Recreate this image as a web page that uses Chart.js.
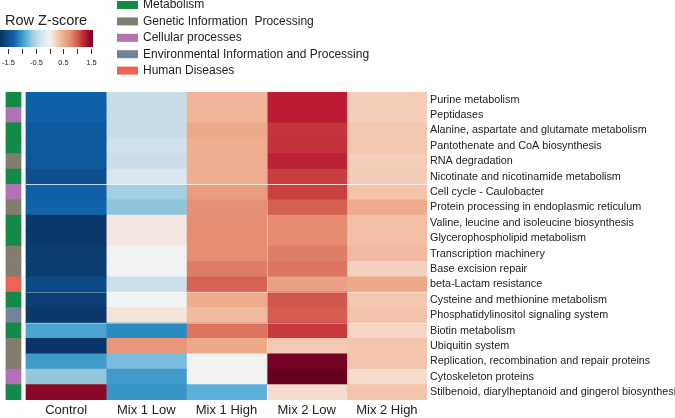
<!DOCTYPE html>
<html>
<head>
<meta charset="utf-8">
<script src="https://cdn.jsdelivr.net/npm/chart.js@4.4.1/dist/chart.umd.min.js"></script>
<style>
  html, body { margin: 0; padding: 0; background: #fff; }
  #wrap { width: 675px; height: 418px; position: relative; }
</style>
</head>
<body>
<div id="wrap"><canvas id="heatmap"></canvas></div>
<script>
// columns (samples) and rows (pathways)
const columns = ["Control", "Mix 1 Low", "Mix 1 High", "Mix 2 Low", "Mix 2 High"];
const pathways = [
  "Purine metabolism",
  "Peptidases",
  "Alanine, aspartate and glutamate metabolism",
  "Pantothenate and CoA biosynthesis",
  "RNA degradation",
  "Nicotinate and nicotinamide metabolism",
  "Cell cycle - Caulobacter",
  "Protein processing in endoplasmic reticulum",
  "Valine, leucine and isoleucine biosynthesis",
  "Glycerophospholipid metabolism",
  "Transcription machinery",
  "Base excision repair",
  "beta-Lactam resistance",
  "Cysteine and methionine metabolism",
  "Phosphatidylinositol signaling system",
  "Biotin metabolism",
  "Ubiquitin system",
  "Replication, recombination and repair proteins",
  "Cytoskeleton proteins",
  "Stilbenoid, diarylheptanoid and gingerol biosynthesis"
];

// KEGG groups, index into groupNames for each row
const groupNames = ["Metabolism", "Genetic Information  Processing", "Cellular processes",
  "Environmental Information and Processing", "Human Diseases"];
const groupColors = ["#138a47", "#837d70", "#b270b5", "#73839a", "#ec6454"];
const rowGroup = [0, 2, 0, 0, 1, 0, 2, 1, 0, 0, 1, 1, 4, 0, 3, 0, 1, 1, 2, 0];

// row z-scores per column
const zControl = [-1.30, -1.30, -1.38, -1.38, -1.40, -1.50, -1.30, -1.28, -1.72, -1.72,
  -1.68, -1.68, -1.55, -1.66, -1.72, -0.93, -1.78, -0.98, -0.66, 1.45];
const zMix1Low = [-0.40, -0.40, -0.40, -0.32, -0.38, -0.25, -0.60, -0.68, 0.08, 0.08,
  0.00, 0.00, -0.36, 0.00, 0.10, -1.08, 0.66, -0.75, -0.98, -1.02];
const zMix1High = [0.42, 0.42, 0.52, 0.48, 0.48, 0.48, 0.62, 0.70, 0.73, 0.73,
  0.73, 0.82, 0.97, 0.50, 0.38, 0.87, 0.52, 0.00, 0.00, -0.85];
const zMix2Low = [1.30, 1.30, 1.17, 1.19, 1.27, 1.13, 1.12, 0.98, 0.75, 0.75,
  0.82, 0.86, 0.58, 1.02, 0.99, 1.14, 0.28, 1.55, 1.62, 0.16];
const zMix2High = [0.25, 0.25, 0.30, 0.30, 0.25, 0.26, 0.32, 0.50, 0.36, 0.36,
  0.40, 0.23, 0.52, 0.29, 0.33, 0.20, 0.31, 0.31, 0.16, 0.31];
const zColumns = [zControl, zMix1Low, zMix1High, zMix2Low, zMix2High];

const colorTicks = [-1.5, -1, -0.5, 0, 0.5, 1, 1.5];
const colorTickLabels = ["-1.5", "", "-0.5", "", "0.5", "", "1.5"];

// blue-white-red ramp (value -> colour)
const rampStops = [
  [-1.8, "#0a3366"], [-1.7, "#0b3b6e"], [-1.5, "#0d508f"], [-1.3, "#1060a8"],
  [-1.08, "#2b8cc3"], [-0.85, "#5cafd6"], [-0.6, "#a5cee1"], [-0.4, "#c8dde8"],
  [-0.25, "#dbe7ee"], [0, "#f1f2f2"], [0.16, "#f6dccf"], [0.3, "#f3c6af"],
  [0.5, "#efab8c"], [0.75, "#e48b70"], [1.0, "#d35c4e"], [1.15, "#c6393c"],
  [1.3, "#bb1b35"], [1.45, "#8c0828"], [1.62, "#67001f"]
];

function hexRgb(h) {
  return [parseInt(h.slice(1, 3), 16), parseInt(h.slice(3, 5), 16), parseInt(h.slice(5, 7), 16)];
}

function colorFor(v) {
  if (v <= rampStops[0][0]) return rampStops[0][1];
  for (let i = 1; i < rampStops.length; i++) {
    if (v <= rampStops[i][0]) {
      const [v0, c0] = rampStops[i - 1];
      const [v1, c1] = rampStops[i];
      const t = (v - v0) / (v1 - v0);
      const a = hexRgb(c0), b = hexRgb(c1);
      const m = a.map((x, k) => Math.round(x + (b[k] - x) * t));
      return "rgb(" + m.join(",") + ")";
    }
  }
  return rampStops[rampStops.length - 1][1];
}

const FONT = "'Liberation Sans', Arial, Helvetica, sans-serif";

// one floating-bar dataset per column, plus the group side bar
const datasets = zColumns.map((z, j) => ({
  label: columns[j],
  data: pathways.map(() => [j, j + 1]),
  z: z,
  backgroundColor: z.map(colorFor),
  borderWidth: 0,
  grouped: false,
  barPercentage: 1,
  categoryPercentage: 1
}));

datasets.push({
  label: "Group",
  data: pathways.map(() => [-0.25, -0.062]),
  backgroundColor: rowGroup.map((g) => groupColors[g]),
  borderWidth: 0,
  grouped: false,
  barPercentage: 1,
  categoryPercentage: 1
});

// colour key, group legend and cluster separators
const decorations = {
  id: "decorations",
  afterDatasetsDraw(chart) {
    const ctx = chart.ctx;
    const xs = chart.scales.x, ys = chart.scales.y;
    ctx.save();

    // cluster separators
    ctx.strokeStyle = "rgba(255,255,255,0.75)";
    ctx.lineWidth = 1;
    ctx.beginPath();
    let yy = Math.round(ys.getPixelForValue(5.5)) + 0.5;
    ctx.moveTo(xs.getPixelForValue(0), yy);
    ctx.lineTo(xs.getPixelForValue(5), yy);
    ctx.stroke();
    ctx.strokeStyle = "rgba(255,255,255,0.35)";
    ctx.beginPath();
    [12.5, 14.5].forEach((r) => {
      const y = Math.round(ys.getPixelForValue(r)) + 0.5;
      ctx.moveTo(xs.getPixelForValue(0), y);
      ctx.lineTo(xs.getPixelForValue(5), y);
    });
    const vx = Math.round(xs.getPixelForValue(3)) + 0.5;
    ctx.moveTo(vx, chart.chartArea.top);
    ctx.lineTo(vx, chart.chartArea.bottom);
    ctx.stroke();

    // colour key
    const kx0 = 0, kx1 = 93, ky0 = 30, ky1 = 47;
    const kMin = -1.8, kMax = 1.57;
    for (let px = kx0; px < kx1; px++) {
      ctx.fillStyle = colorFor(kMin + (px + 0.5 - kx0) / (kx1 - kx0) * (kMax - kMin));
      ctx.fillRect(px, ky0, 1, ky1 - ky0);
    }
    ctx.fillStyle = "#222";
    ctx.font = "14.5px " + FONT;
    ctx.textAlign = "left";
    ctx.textBaseline = "middle";
    ctx.fillText("Row Z-score", 5, 21);
    ctx.strokeStyle = "#333";
    ctx.lineWidth = 1;
    ctx.font = "7.5px " + FONT;
    ctx.textAlign = "center";
    colorTicks.forEach((t, i) => {
      const px = Math.round(kx0 + (t - kMin) / (kMax - kMin) * (kx1 - kx0)) + 0.5;
      ctx.beginPath();
      ctx.moveTo(px, 49);
      ctx.lineTo(px, 54);
      ctx.stroke();
      if (colorTickLabels[i]) ctx.fillText(colorTickLabels[i], px, 63);
    });

    // group legend
    ctx.font = "12px " + FONT;
    ctx.textAlign = "left";
    groupNames.forEach((name, i) => {
      const cy = 5 + i * 16.4;
      ctx.fillStyle = groupColors[i];
      ctx.fillRect(117, cy - 4, 21, 8);
      ctx.fillStyle = "#222";
      ctx.fillText(name, 143, cy);
    });

    ctx.restore();
  }
};

const ctx = document.getElementById("heatmap").getContext("2d");

const heatChart = new Chart(ctx, {
  type: "bar",
  data: { labels: pathways, datasets: datasets },
  plugins: [decorations],
  options: {
    indexAxis: "y",
    responsive: true,
    maintainAspectRatio: false,
    animation: false,
    layout: { padding: { top: 92, left: 0, right: 0, bottom: 0 } },
    plugins: {
      legend: { display: false },
      tooltip: {
        callbacks: {
          label: function (item) {
            const z = item.dataset.z;
            return z ? item.dataset.label + ": " + z[item.dataIndex].toFixed(2)
                     : groupNames[rowGroup[item.dataIndex]];
          }
        }
      }
    },
    scales: {
      x: {
        type: "linear",
        min: -0.324,
        max: 5,
        grid: { display: false, drawTicks: false },
        border: { display: false },
        afterBuildTicks: (scale) => {
          scale.ticks = columns.map((c, i) => ({ value: i + 0.5 }));
        },
        afterFit: (scale) => { scale.height = 18; },
        ticks: {
          autoSkip: false,
          maxRotation: 0,
          padding: 3,
          color: "#222",
          font: { family: FONT, size: 13 },
          callback: (value, index) => columns[index]
        }
      },
      y: {
        type: "category",
        position: "right",
        grid: { display: false, drawTicks: false },
        border: { display: false },
        afterFit: (scale) => { scale.width = 248; },
        ticks: {
          autoSkip: false,
          padding: 3,
          color: "#222",
          font: { family: FONT, size: 10.8 }
        }
      }
    }
  }
});
</script>
</body>
</html>
